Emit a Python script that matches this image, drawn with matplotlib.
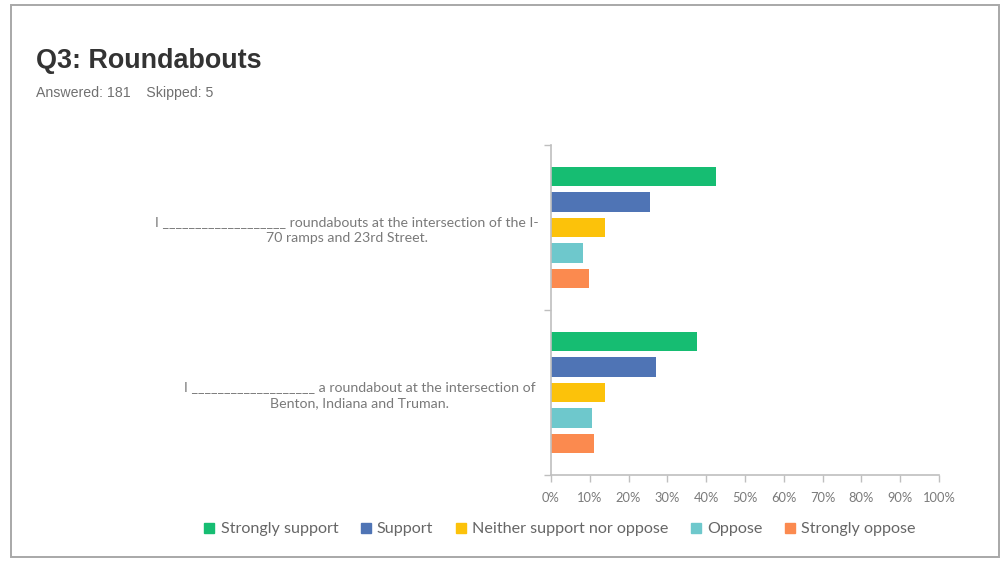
import matplotlib
matplotlib.use("Agg")
import numpy as np
import matplotlib.pyplot as plt
import matplotlib.transforms as mtransforms
from matplotlib.lines import Line2D
from matplotlib.patches import Rectangle

# survey results, percent of 181 respondents
statements = [
    "I ___________________ roundabouts at the intersection of the I-\n70 ramps and 23rd Street.",
    "I ___________________ a roundabout at the intersection of\nBenton, Indiana and Truman.",
]
responses = ["Strongly support", "Support", "Neither support nor oppose", "Oppose", "Strongly oppose"]
q_23rd = [42.5, 25.4, 13.8, 8.3, 9.9]
q_benton = [37.6, 27.1, 13.8, 10.5, 11.0]
colors = ["#16bd72", "#4f74b5", "#fcc20a", "#6ec8cc", "#fb8a4f"]
xticks = list(range(0, 101, 10))

plt.rcParams["font.family"] = ["Lato", "DejaVu Sans"]
label_gray = "#7a7a7a"
axis_gray = "#bfbfbf"

fig = plt.figure(figsize=(10.02, 5.61), dpi=100)
fig.patch.set_facecolor("white")

# page border
fig.patches.append(Rectangle((11 / 1002, 4 / 561), 988 / 1002, 552 / 561,
                             transform=fig.transFigure, fill=False,
                             edgecolor="#a8a8a8", lw=1.4))

fig.text(36 / 1002, 1 - 68 / 561, "Q3: Roundabouts", fontsize=19.4, fontweight="bold",
         family="Liberation Sans", color="#333333", va="baseline")
fig.text(36 / 1002, 1 - 97 / 561, "Answered: 181    Skipped: 5", fontsize=10.2,
         family="Liberation Sans", color="#707070", va="baseline")

ax = fig.add_axes([551 / 1002, 1 - 475 / 561, 388 / 1002, 330 / 561])

pitch = 0.155
height = 0.118
for j, name in enumerate(responses):
    vals = [q_23rd[j], q_benton[j]]
    ys = [i + 0.5 + (j - 2) * pitch for i in range(len(statements))]
    ax.barh(ys, vals, height=height, color=colors[j], label=name)

ax.set_ylim(2, 0)
ax.set_xlim(0, 100)
ax.set_xticks(xticks)
ax.set_xticklabels([f"{t}%" for t in xticks])

ax.set_yticks([0.5, 1.5])
ax.set_yticklabels(statements, ha="center", multialignment="center", linespacing=1.4)
ax.set_yticks([0, 1, 2], minor=True)
ax.tick_params(axis="y", which="major", length=0, pad=147, labelsize=10.2, labelcolor=label_gray)
ax.tick_params(axis="y", which="minor", length=5, color=axis_gray, width=1)
ax.tick_params(axis="x", length=5, color=axis_gray, width=1, pad=7,
               labelsize=9.3, labelcolor=label_gray)

# shorter second statement sits closer to the axis
lbl = ax.get_yticklabels()[1]
lbl.set_transform(lbl.get_transform() +
                  mtransforms.ScaledTranslation(13 / 100, 0, fig.dpi_scale_trans))

for s in ["top", "right"]:
    ax.spines[s].set_visible(False)
for s in ["left", "bottom"]:
    ax.spines[s].set_color(axis_gray)
    ax.spines[s].set_linewidth(1.2)

handles = [Line2D([], [], marker="s", linestyle="none", markersize=7,
                  markerfacecolor=c, markeredgecolor=c) for c in colors]
fig.legend(handles, responses, loc="center", bbox_to_anchor=(560 / 1002, 1 - 529 / 561),
           ncol=5, frameon=False, fontsize=11.6, labelcolor="#666666",
           handlelength=0.6, handletextpad=0.4, columnspacing=1.4)

fig.savefig("out.png", dpi=100)
